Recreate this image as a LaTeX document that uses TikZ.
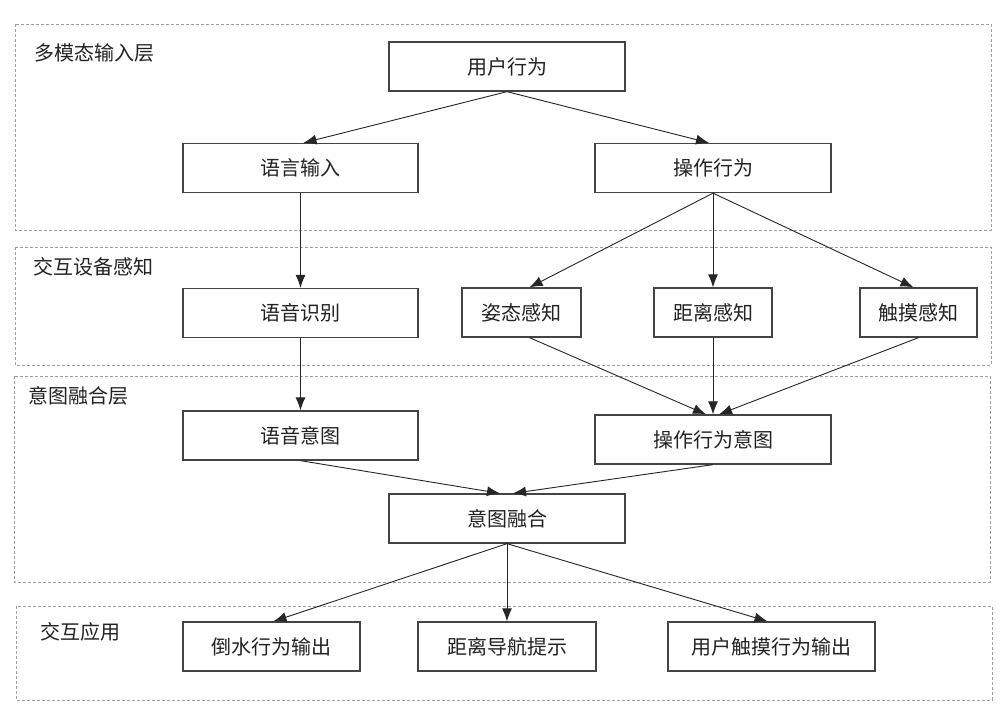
\documentclass[tikz,border=0pt]{standalone}
\usepackage{fontspec}
\newfontfamily\cjk{Noto Sans CJK SC}
\usetikzlibrary{arrows.meta}
\definecolor{boxline}{HTML}{444444}
\definecolor{txt}{HTML}{222222}
\definecolor{layerline}{HTML}{A0A0A0}
\tikzset{
  stepbox/.style={draw=boxline, line width=1.3pt, fill=white, rectangle, inner sep=0pt,
    text=txt, font=\cjk\fontsize{20}{23}\selectfont, minimum height=49pt},
  layerbox/.style={draw=layerline, line width=0.8pt, dash pattern=on 3pt off 2pt},
  layerlabel/.style={anchor=west, inner sep=0pt, text=txt, font=\cjk\fontsize{20}{23}\selectfont},
  flow/.style={draw=black!85, line width=0.9pt, -{Latex[length=13pt,width=10pt]}},
}
\begin{document}
\begin{tikzpicture}[x=1pt,y=-1pt]
\useasboundingbox (0,0) rectangle (1007,715);
\fill[white] (0,0) rectangle (1007,715);
% layers
\draw[layerbox] (15,24) rectangle (991,230);
\draw[layerbox] (15,247) rectangle (991,365);
\draw[layerbox] (14,376) rectangle (990,582);
\draw[layerbox] (16,606) rectangle (992,700);
\node[layerlabel] (l1) at (34,53) {多模态输入层};
\node[layerlabel] (l2) at (33,267) {交互设备感知};
\node[layerlabel] (l3) at (28,396) {意图融合层};
\node[layerlabel] (l4) at (40,632) {交互应用};
% boxes
\node[stepbox, minimum width=236pt] (user) at (507,66.5) {用户行为};
\node[stepbox, minimum width=235pt] (lang) at (300.5,168) {语言输入};
\node[stepbox, minimum width=236pt] (op) at (713,168) {操作行为};
\node[stepbox, minimum width=235pt] (speech) at (300.5,313) {语音识别};
\node[stepbox, minimum width=119pt] (pose) at (521.5,312.5) {姿态感知};
\node[stepbox, minimum width=118pt] (dist) at (713,312.5) {距离感知};
\node[stepbox, minimum width=117pt] (touch) at (918.5,312.5) {触摸感知};
\node[stepbox, minimum width=235pt] (vint) at (300.5,435.5) {语音意图};
\node[stepbox, minimum width=236pt] (opint) at (713,439.5) {操作行为意图};
\node[stepbox, minimum width=236pt] (fuse) at (507,518.5) {意图融合};
\node[stepbox, minimum width=177pt] (pour) at (271.5,646.5) {倒水行为输出};
\node[stepbox, minimum width=178pt] (nav) at (507,646.5) {距离导航提示};
\node[stepbox, minimum width=207pt] (tout) at (771.5,646.5) {用户触摸行为输出};
% connectors
\draw[flow] (user.south) -- ([xshift=3pt]lang.north);
\draw[flow] (user.south) -- ([xshift=-4pt]op.north);
\draw[flow] (lang.south) -- (speech.north);
\draw[flow] (op.south) -- ([xshift=8pt]pose.north);
\draw[flow] (op.south) -- (dist.north);
\draw[flow] (op.south) -- ([xshift=-5pt]touch.north);
\draw[flow] (speech.south) -- (vint.north);
\draw[flow] ([xshift=8pt]pose.south) -- ([xshift=-7pt]opint.north);
\draw[flow] (dist.south) -- (opint.north);
\draw[flow] (touch.south) -- ([xshift=6pt]opint.north);
\draw[flow] (vint.south) -- ([xshift=-7pt]fuse.north);
\draw[flow] (opint.south) -- ([xshift=6pt]fuse.north);
\draw[flow] (fuse.south) -- ([xshift=2pt]pour.north);
\draw[flow] (fuse.south) -- (nav.north);
\draw[flow] (fuse.south) -- ([xshift=-4pt]tout.north);
\end{tikzpicture}
\end{document}
